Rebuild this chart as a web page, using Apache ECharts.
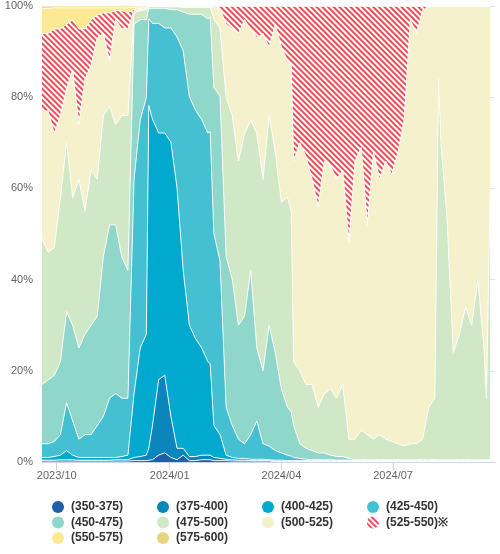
<!DOCTYPE html>
<html><head><meta charset="utf-8">
<script src="https://cdn.jsdelivr.net/npm/echarts@6/dist/echarts.min.js"></script>
<style>html,body{margin:0;padding:0;background:#fff}#c{width:500px;height:554px}</style>
</head><body><div id="c"></div>
<script>
const dates = ['2023-09-19','2023-09-24','2023-09-29','2023-10-04','2023-10-09','2023-10-14','2023-10-19','2023-10-24','2023-10-29','2023-11-03','2023-11-08','2023-11-13','2023-11-18','2023-11-23','2023-11-28','2023-12-03','2023-12-08','2023-12-13','2023-12-15','2023-12-18','2023-12-23','2023-12-28','2024-01-02','2024-01-07','2024-01-12','2024-01-17','2024-01-22','2024-01-27','2024-02-01','2024-02-03','2024-02-06','2024-02-11','2024-02-16','2024-02-21','2024-02-26','2024-03-02','2024-03-07','2024-03-12','2024-03-17','2024-03-22','2024-03-27','2024-04-01','2024-04-06','2024-04-09','2024-04-11','2024-04-16','2024-04-21','2024-04-26','2024-05-01','2024-05-06','2024-05-11','2024-05-16','2024-05-21','2024-05-26','2024-05-31','2024-06-05','2024-06-10','2024-06-15','2024-06-20','2024-06-25','2024-06-30','2024-07-05','2024-07-10','2024-07-15','2024-07-20','2024-07-25','2024-07-30','2024-08-04','2024-08-07','2024-08-09','2024-08-14','2024-08-19','2024-08-24','2024-08-29','2024-09-03','2024-09-08','2024-09-13','2024-09-15','2024-09-18'];

const seriesNames = ['(350-375)','(375-400)','(400-425)','(425-450)','(450-475)','(475-500)','(500-525)','(525-550)※','(550-575)','(575-600)'];

const v350_375 = [0.2,0.2,0.2,0.2,0.2,0.2,0.2,0.2,0.2,0.2,0.2,0.2,0.2,0.2,0.2, 0.3,0.3,0.3,0.4, 0.5,1.5,2,1,0.5,1.5,0.3,0.3,0.5,0.5,0.5,0.3,0.3,0.3, 0.2,0.2,0.2,0.2,0.2,0.2,0.2,
  0.1,0.1,0.1,0.1,0.1,0.1,0.1,0.1,0.1,0.1, 0.1,0.1,0.1,0.1,0.1,0.1,0.1,0.1,0.1,0.1, 0.1,0.1,0.1,0.1,0.1,0.1,0.1,0.1,0.1,0.1, 0.1,0.1,0.1,0.1,0.1,0.1,0.1,0.1,0.1];
const v375_400 = [0.2,0.2,0.2,0.3,0.3,0.3,0.2,0.2,0.2,0.2,0.2,0.2,0.3,0.3,0.3, 0.7,0.9,1.2,2.6,7.5,16.5,17,9,2.5,1.5,0.9,0.9,1,1,1,0.7,0.5,0.3,0.3,0.2,0.2,
  0.1,0.1,0.1,0.1,0.1,0.1,0.1,0.1,0.1,0.1, 0.1,0.1,0.1,0.1,0.1,0.1,0.1,0.1,
  0,0,0,0,0,0,0,0,0,0, 0,0,0,0,0,0,0,0,0,0, 0,0,0,0,0];
const v400_425 = [0.6,0.6,0.8,1.0,2.0,1.0,0.6,0.6,0.6,0.6,0.6,0.6,0.5,0.7,1.0, 14,23.8,26.5,75,67,54,53,60,57,39,28.8,25.8,23.5,20.5,20,7,5.2,0.9,0.5,0.4,0.4,0.3,0.3,0.3,0.2,0.2,0.2,
  0.1,0.1,0.1,0.1,0.1,0.1,0.1,0.1,0.1,0.1, 0.1,0.1,0.1,0.1,0.1,0.1,0.1,0.1,0.1,0.1, 0.1,0.1,0.1,0.1,0.1,0.1,0.1,0.1,0.1,0.1, 0.1,0.1,0.1,0.1,0.1,0.1,0.1];
const v425_450 = [3,3,3.3,4.5,10.5,7.5,4,5,5,7,9,13,14,12.8,12.5, 47,50,52,19,21,24,23,25,33,48,50,50,50,50,51,42,38,10.5,7,4.2,3.2,5.4,8.4,3.4,3,2.1,1.6,1.2,1,0.7,0.5,0.3,0.2,0.2,0.2,0.2,0.1,0.1,0.1,
  0.1,0.1,0.1,0.1,0.1,0.1,0.1,0.1,0.1,0.1, 0.1,0.1,0.1,0.1,0.1,0.1,0.1,0.1,0.1,0.1, 0.1,0.1,0.1,0.1,0.1];
const v450_475 = [13,14,14.5,16,20,21,20,22,24,24,35,38,37,31,28, 34,22,17,2.3,3.3,3.3,4.3,4,6,8.5,18,21,23,25,25,32,36,33,32,25,28,36,16,16,26.5,21.5,14,10.5,9.7,7,3.2,2.4,2,1.5,1.5,1,0.8,0.8,0.4,
  0.2,0.2,0.2,0.2,0.2,0.2,0.2,0.2,0.2,0.2,0.2,0.3,0.3,0.2,0.2,0.2,0.2,0.2,0.2,0.2,0.2,0.2,0.2,0.2,0.2];
const v475_500 = [32,28,28,36,37,28,37,27,34,30,31,26,22,31,34, 2.5,2,2.2,0.4,0.4,0.4,0.4,0.6,0.6,1,1.5,1.5,1.5,2.5,2.2,15,15,35,36,36,40,33,47,42,46,44,41,46,44,14,16,14,14.5,10,13,14.5,12.8,15.8,4.2,4.5,6.5,5.5,4.5,5.5,4.5,4,3.5,3,3.5,3.5,4.4,11.4,13.5,83.5,69.5,52.5,23.5,27.5,33.5,29.5,39.5,24.5,13.5,57.5];
const v500_525 = [28,31,25,18,12,28,12,29,23,31,18,10,23,19,19, 0.5,0.3,0.3,0.1,0.1,0.1,0.1,0.2,0.2,0.3,0.3,0.3,0.3,0.3,0.3,2.5,4.3,16,19,28,25,20,21,32,15,28,34,30,32,44,50,50,45,44,51,49,48,47,43,61,62,46,63,56,61,58.5,64,71.5,93,90,94,88,86,16,30,47,76,72,66,70,60,75,86,42];
const v525_550 = [17,17,23,19,14,11,21,11,10,5,4.5,10.5,2,4,3.5, 0.3,0.2,0.1,0, 0,0,0,0,0,0,0,0,0,0,0,
  0.3,0.5,4,5,6,3,5,7,6,9,4,9,12,13,34,30,33,38,44,34,35,38,36,52,34,31,48,32,38,34,37,32,25,3,6,1,
  0,0,0,0,0,0,0,0,0,0,0,0,0];
const v550_575 = [5.5,5.5,4.6,4.6,3.6,2.6,4.6,4.6,2.6,1.6,1.1,1.1,0.6,0.6,1.1, 0.4,0.3,0.2,
  0,0,0,0,0,0,0,0,0,0, 0,0,0,0,0,0,0,0,0,0, 0,0,0,0,0,0,0,0,0,0, 0,0,0,0,0,0,0,0,0,0, 0,0,0,0,0,0,0,0,0,0, 0,0,0,0,0,0,0,0,0,0, 0];
const v575_600 = [0.5,0.5,0.4,0.4,0.4,0.4,0.4,0.4,0.4,0.4,0.4,0.4,0.4,0.4,0.4, 0.3,0.2,0.2,
  0,0,0,0,0,0,0,0,0,0, 0,0,0,0,0,0,0,0,0,0, 0,0,0,0,0,0,0,0,0,0, 0,0,0,0,0,0,0,0,0,0, 0,0,0,0,0,0,0,0,0,0, 0,0,0,0,0,0,0,0,0,0, 0];

const tickLabelFormat = '{yyyy}/{MM}';   // x tick labels: 2023/10, 2024/01, 2024/04, 2024/07
const yTickLabels = ['0%','20%','40%','60%','80%','100%'];

const colors = ['#1f5fa8','#0b86bd','#00a9cd','#45c0d3','#8fd6cb','#d1e8c7','#f5f1cc','#ef4a56','#fde992','#e6d57e'];
const values = [v350_375,v375_400,v400_425,v425_450,v450_475,v475_500,v500_525,v525_550,v550_575,v575_600];

function toTime(s){const p=s.split('-').map(Number);return new Date(p[0],p[1]-1,p[2]).getTime();}
const totals = dates.map((d,i)=>values.reduce((s,a)=>s+a[i],0));
const FONT = 'Liberation Sans, Arial, Helvetica, sans-serif';
const stripeDecal = {symbol:'rect', symbolSize:1, color:'#ef4a56', dashArrayX:[1,0], dashArrayY:[2,2], rotation: Math.PI/4};
const QUARTER = 95*24*3600*1000;

const series = seriesNames.map((name,k)=>({
  name, type:'line', stack:'total', symbol:'none', showSymbol:false, smooth:false,
  color: colors[k],
  lineStyle:{color:'#ffffff', width:1, opacity:0.9},
  areaStyle:{color: k===7 ? '#ffffff' : colors[k], opacity:1},
  itemStyle: k===7 ? {color: colors[k], decal: stripeDecal} : {color: colors[k]},
  emphasis:{disabled:true},
  data: dates.map((d,i)=>[toTime(d), values[k][i]/totals[i]*100])
}));

const legends = seriesNames.map((name,k)=>({
  data:[{name, icon:'circle', itemStyle: k===7 ? {color:'#ffffff', decal: stripeDecal} : {color: colors[k]}}],
  left: 52 + (k%4)*105, top: 501 + Math.floor(k/4)*15.5,
  itemWidth:12, itemHeight:12, itemGap:0, padding:0, selectedMode:false,
  textStyle:{fontSize:12, fontWeight:'bold', color:'#333333', fontFamily:FONT, padding:[0,0,0,2]}
}));

const chart = echarts.init(document.getElementById('c'), null, {renderer:'canvas'});
chart.setOption({
  animation:false,
  backgroundColor:'#ffffff',
  grid:{left:42, right:5, top:6, bottom:92, containLabel:false},
  legend: legends,
  xAxis:{
    type:'time', min: toTime('2023-09-19'), max: toTime('2024-09-22'),
    minInterval: QUARTER, maxInterval: QUARTER,
    axisLine:{show:true, lineStyle:{color:'#ccd6eb', width:1}},
    axisTick:{show:true, length:8, lineStyle:{color:'#ccd6eb'}},
    minorTick:{show:false},
    axisLabel:{color:'#666666', fontSize:11, fontFamily:FONT, margin:8, showMinLabel:false, showMaxLabel:false,
      formatter:(val)=>echarts.time.format(val, tickLabelFormat, false)},
    splitLine:{show:false}
  },
  yAxis:{
    type:'value', min:0, max:100, interval:20,
    axisLine:{show:false}, axisTick:{show:false},
    axisLabel:{formatter:(v)=>yTickLabels[Math.round(v/20)], color:'#666666', fontSize:11, fontFamily:FONT, margin:9},
    splitLine:{show:true, lineStyle:{color:'#e6e6e6', width:1}}
  },
  series
});
</script>
</body></html>
